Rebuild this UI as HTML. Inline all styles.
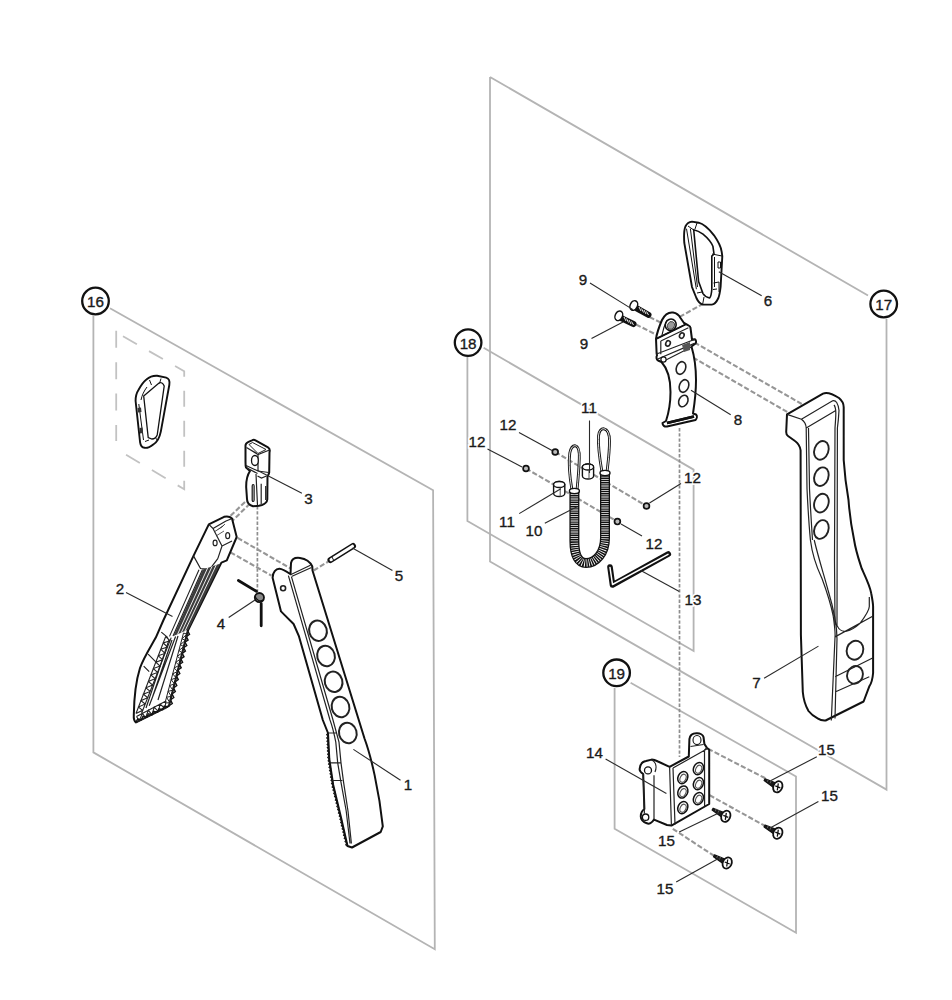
<!DOCTYPE html>
<html><head><meta charset="utf-8">
<style>
html,body{margin:0;padding:0;background:#fff;width:952px;height:1000px;overflow:hidden}
svg{display:block}
text{font-family:"Liberation Sans",sans-serif;font-size:15.2px;fill:#1a1a1a;stroke:#1a1a1a;stroke-width:0.35}
.g{stroke:#b4b4b4;stroke-width:1.8;fill:none}
.d{stroke:#969696;stroke-width:2.1;fill:none;stroke-dasharray:5.2 2.2}
.db{stroke:#c2c2c2;stroke-width:1.8;fill:none;stroke-dasharray:17 14.4}
.l{stroke:#2a2a2a;stroke-width:1.1;fill:none}
.c{stroke:#111;stroke-width:2.3;fill:#fff}
.p{stroke:#111;stroke-width:2.0;fill:#fff;stroke-linejoin:round;stroke-linecap:round}
.pk{stroke:#111;stroke-width:2.2;fill:none;stroke-linejoin:round;stroke-linecap:round}
.t{stroke:#222;stroke-width:1.2;fill:none}
.tk{stroke:#333;stroke-width:1.2;fill:none}
.h{stroke:#222;stroke-width:1.6;fill:none}
</style></head><body>
<svg width="952" height="1000" viewBox="0 0 952 1000">

<path class="g" d="M93.4,316 L93.4,752.4 L434.8,949.2 L433.1,490.3 L110,308.2"/>
<path class="g" d="M490,77 L868,295.5 M886.5,319 L886.5,789.6 L490,561.5 L490,77"/>
<path class="g" d="M467.4,357 L467.4,521 L693.6,651 L693.6,469.6 L483.6,347.7"/>
<path class="g" d="M614.6,688 L614.6,828.8 L796,932.8 L796,776.4 L630.6,682.8"/>
<path class="db" d="M116.2,330.8 L116.2,441"/><path class="db" d="M123,336.2 L184.2,371.3 L184.2,489.2 L120.3,451.4" style="stroke-dasharray:16 14;stroke-dashoffset:0"/>
<path class="d" d="M679.5,428 L679.5,757" style="stroke-dasharray:3.4 1.8;stroke-width:1.7;stroke:#8e8e8e"/>
<path class="d" d="M257.4,506 L257.4,598" style="stroke-dasharray:3.4 1.8;stroke-width:1.7;stroke:#8e8e8e"/>
<path class="d" d="M250.0,503.5 L232.5,520.8"/>
<path class="d" d="M245.0,502.0 L228.6,517.7"/>
<path class="d" d="M260.0,625.0 L260.0,625.0"/>
<path class="d" d="M237.6,537.9 L290.5,568.4"/>
<path class="d" d="M230.4,552.3 L271.5,575.7"/>
<path class="d" d="M313.6,570.5 L328.3,561.5"/>
<path class="d" d="M649.5,317.0 L661.5,323.0"/>
<path class="d" d="M636.0,324.5 L657.0,335.0"/>
<path class="d" d="M703.5,303.5 L679.5,317.0"/>
<path class="d" d="M694.5,342.5 L803.5,405.0"/>
<path class="d" d="M693.0,357.5 L789.0,413.0"/>
<path class="d" d="M555.2,452.0 L646.5,506.0"/>
<path class="d" d="M526.0,468.5 L617.4,521.6"/>
<path class="d" d="M708.0,748.8 L767.2,779.2"/>
<path class="d" d="M709.6,795.2 L767.2,827.2"/>
<path class="d" d="M672.8,828.8 L719.2,859.2"/>
<g id="p1">
<path class="p" d="M272.6,577.8 C272.6,572 276,568.6 279.5,568.8 C283,569 286.5,571.5 290.5,574.2 L291,563 C292,558.5 296,557.5 300,558 C305,558.7 310,561.5 312.3,566.5 L312.5,570.5 L364.5,738.5 C371,756 379,790 382.8,826.4 L380.7,832 L352,847.5 L347.5,846 L341,817.5 L333.2,785 L329.3,759 L328,733 L322.8,720 L299,636.4 L293.6,624 L284.2,614.6 L281,611.4 Z"/>
<path class="t" d="M290.5,574.7 L310.4,565.2 M291.5,576.5 L311.5,567.5 M288.4,575.7 L330,720 C333,728 335.8,742.1 335.8,742.1 L337.7,762.9 L341,782.4 L346.2,811 L350,843.5 M291.5,576.8 L333,720 L339,742.1 L341,762.9 L343.6,782.4 L348,811 L351.4,843.5 M329.3,762.9 L341,762.9 M331.2,780.5 L342.3,780.5 M328,733 L336,733"/>
<circle class="h" cx="283.1" cy="588.3" r="2.5"/>
<g class="h" style="stroke-width:2">
<ellipse cx="318" cy="630.7" rx="8.8" ry="10.3" transform="rotate(-15 318 630.7)"/>
<ellipse cx="326" cy="656" rx="8.8" ry="10.3" transform="rotate(-15 326 656)"/>
<ellipse cx="333.6" cy="681.8" rx="8.8" ry="10.3" transform="rotate(-15 333.6 681.8)"/>
<ellipse cx="340.5" cy="707" rx="8.8" ry="10.3" transform="rotate(-15 340.5 707)"/>
<ellipse cx="347.8" cy="733" rx="8.8" ry="10.3" transform="rotate(-15 347.8 733)"/>
</g>
</g>
<path d="M328.0,733.0 L326.6,734.7 L328.2,736.2 L326.7,737.9 L328.3,739.5 L326.9,741.2 L328.5,742.8 L327.1,744.4 L328.6,746.0 L327.2,747.7 L328.8,749.2 L327.4,750.9 L329.0,752.5 L327.6,754.2 L329.1,755.8 L327.7,757.4 L329.3,759.0 L328.1,760.8 L329.8,762.2 L328.5,764.1 L330.3,765.5 L329.0,767.3 L330.8,768.8 L329.5,770.6 L331.2,772.0 L330.0,773.8 L331.7,775.2 L330.5,777.1 L332.2,778.5 L331.0,780.3 L332.7,781.8 L331.5,783.6 L333.2,785.0 L332.1,787.0 L334.0,788.2 L332.9,790.2 L334.8,791.5 L333.7,793.5 L335.5,794.8 L334.5,796.7 L336.3,798.0 L335.3,800.0 L337.1,801.2 L336.0,803.2 L337.9,804.5 L336.8,806.5 L338.7,807.8 L337.6,809.7 L339.4,811.0 L338.4,813.0 L340.2,814.2 L339.2,816.2 L341.0,817.5 L339.9,819.4 L341.7,820.7 L340.6,822.6 L342.4,823.8 L341.3,825.8 L343.2,827.0 L342.1,828.9 L343.9,830.2 L342.8,832.1 L344.6,833.3 L343.5,835.3 L345.3,836.5 L344.2,838.4 L346.1,839.7 L345.0,841.6 L346.8,842.8 L345.7,844.8 L347.5,846.0" stroke="#111" stroke-width="1.1" fill="none"/>
<path d="M330.5,560 L353,546" stroke="#111" stroke-width="6" stroke-linecap="round"/>
<path d="M331,559.8 L352.5,546.2" stroke="#fff" stroke-width="3" stroke-linecap="round"/>
<path d="M332,557 L334,561" stroke="#111" stroke-width="1"/>
<g id="p2">
<path class="p" d="M208.8,524.4 L224.1,516.8 C227,516 230,516.5 232,518.5 L236.7,537 L226.8,560.4 L221.4,562.6 L187.7,631 L169,705.8 L136,722.4 C134,721 133.5,719 133.8,715 C134,700 135,684 140,668 C144,657 150,648 155.8,637.6 L163.5,620 L193.5,555.9 Z"/>
<path class="t" d="M208.8,524.4 L213,528.5 L226,521 M213,528.5 L222,546 L217.8,558.6 M226,521 L231,519 M222,546 L232,541 M193.5,555.9 L200.5,568.5 L209.7,569.4 L217.8,558.6"/>
<ellipse class="t" cx="215.1" cy="542.9" rx="2" ry="2.8"/>
<ellipse class="t" cx="227.7" cy="535.7" rx="2" ry="3"/>
<path d="M214,532 L222,527 L225,524 M216,536 L224,531" stroke="#333" stroke-width="0.8"/>
</g>
<path d="M203,569.5 L220.5,563.5 L188.5,629.5 L173.5,636 Z" fill="#3c3c3c" stroke="none"/>
<path d="M207.7,567.9 L177.6,634.2 M212.1,566.4 L181.3,632.6 M216.3,564.9 L184.9,631.1 " stroke="#fff" stroke-width="0.9" fill="none"/>
<path d="M199,569.8 L169.5,636.4 M202.5,569.5 L173,636" stroke="#222" stroke-width="1.1" fill="none"/>
<path d="M187.7,631.0 L189.5,634.4 L186.3,636.6 L188.1,640.0 L184.9,642.1 L186.8,645.6 L183.5,647.7 L185.4,651.1 L182.2,653.3 L184.0,656.7 L180.8,658.9 L182.6,662.3 L179.4,664.4 L181.2,667.8 L178.0,670.0 L179.8,673.6 L176.5,676.0 L178.3,679.6 L175.0,681.9 L176.8,685.6 L173.5,687.9 L175.3,691.5 L172.0,693.9 L173.8,697.5 L170.5,699.8 L172.3,703.5 L169.0,705.8" stroke="#111" stroke-width="1.4" fill="none"/>
<path d="M183.5,633.0 L165.0,703.0 M187.7,631.0 L169.0,705.8 M183.5,633.0 L186.9,634.1 L182.0,638.8 L185.4,640.4 L180.4,644.7 L183.8,646.6 L178.9,650.5 L182.2,652.8 L177.3,656.3 L180.7,659.0 L175.8,662.2 L179.1,665.3 L174.2,668.0 L177.6,671.5 L172.7,673.8 L176.0,677.8 L171.2,679.7 L174.5,684.0 L169.6,685.5 L172.9,690.2 L168.1,691.3 L171.3,696.4 L166.5,697.2 L169.8,702.7 L165.0,703.0" stroke="#222" stroke-width="1.0" fill="none"/>
<path d="M165.7,636.5 L136.0,713.5 M171.2,637.6 L141.5,713.5 M165.7,636.5 L170.0,640.8 L163.2,642.9 L167.5,647.1 L160.8,649.3 L165.0,653.4 L158.3,655.8 L162.5,659.7 L155.8,662.2 L160.1,666.1 L153.3,668.6 L157.6,672.4 L150.8,675.0 L155.1,678.7 L148.4,681.4 L152.6,685.0 L145.9,687.8 L150.2,691.4 L143.4,694.2 L147.7,697.7 L140.9,700.7 L145.2,704.0 L138.5,707.1 L142.7,710.3 L136.0,713.5" stroke="#222" stroke-width="1.1" fill="none"/>
<path d="M136.5,716.5 L166.0,701.0 M136.0,722.4 L168.0,707.0 M136.5,716.5 L139.2,720.9 L142.4,713.4 L145.6,717.8 L148.3,710.3 L152.0,714.7 L154.2,707.2 L158.4,711.6 L160.1,704.1 L164.8,708.5 L166.0,701.0" stroke="#222" stroke-width="1.1" fill="none"/>
<path d="M136.0,722.4 L137.6,719.0 L141.3,719.8 L143.0,716.4 L146.7,717.3 L148.3,713.8 L152.0,714.7 L153.6,711.3 L157.3,712.1 L159.0,708.7 L162.7,709.6 L164.3,706.1 L168.0,707.0" stroke="#111" stroke-width="1.4" fill="none"/>
<path class="t" d="M161.3,632.1 L167.9,637.6 M148.1,654.1 L155.8,661.8 M143.7,666.2 L149.2,671.7 M175.6,636.5 L149.2,705.8 M172,640 L152.5,697 M178,636 L158,700 M169,640 L146,708"/>
<path d="M238.4,580.5 L256.4,591.3 M261.2,603.6 L261.2,625.8" stroke="#111" stroke-width="2.8" stroke-linecap="round" fill="none"/>
<circle cx="259.4" cy="597.6" r="4.6" fill="#888" stroke="#111" stroke-width="1.8"/>
<path d="M255,596 C256,600 260,602 263,600" stroke="#111" stroke-width="1.2" fill="none"/>
<g id="p3">
<path class="p" d="M245.5,445.5 C245.5,443.5 247,442.5 248.5,441.8 L252,440.3 C253,439.8 254.5,439.8 255.5,440.3 L268,447.3 C269.3,448 269.8,449 269.8,450.5 L269.5,452.5 L269.2,472.5 C269,474 268,475.5 267.5,476.5 L267.3,499.5 C267,502 265,504 262,505 L259,505.8 L253,506.2 C249,505 247,502 247,499 L246.2,487.5 C246,480 248,474 250,471 L246,467.5 C245.5,466 245.5,464 245.5,462 Z"/>
<path class="t" d="M246.5,447.5 L258,454.5 L269.5,450 M258,454.5 L258,471 M248,448.5 L257,453.5 M246,465.5 L258,471 L268.7,472.5 M247,468 L257.5,473.5 M256,474 L257.5,505.5 M261.2,483.7 L261.2,504 M265.7,486 L265.7,500 M257.5,476 L261.5,478 L266.5,476"/>
<path d="M249,444.5 L252.5,442.5 L266,449.5 L258,453.5 Z" fill="#fff" stroke="#222" stroke-width="1"/>
<ellipse cx="254.9" cy="460.5" rx="3.4" ry="5" fill="#fff" stroke="#111" stroke-width="1.3"/>
<path d="M252.2,486 C252.2,484 254.1,484 254.1,486 L254.1,500 C254.1,502 252.2,502 252.2,500 Z" fill="none" stroke="#111" stroke-width="1.2"/>
</g>
<g id="cb16">
<path d="M146.4,379.4 C150,376.5 153,375.5 157.2,375.8 L166.2,377.6 C169,378.5 170,381 169.3,385 L160.8,431.6 C159.5,438 157,442 153.6,444.2 C150,447 146.5,448.2 144.6,447.8 C142,447.5 140.5,445.5 140.1,442.4 L135.6,401 C135.5,396 136.5,393 138.3,390.2 C140.5,386 143,382 146.4,379.4 Z" fill="#fff" stroke="#111" stroke-width="1.9"/>
<path d="M143.7,396 L159,383 C161,382 163,383 164.2,386 L157.2,435 C156,438 154,439 152,439 L148.2,437.5 Z" fill="none" stroke="#111" stroke-width="1.3"/>
<path d="M138.8,404 L143.5,440 M141,400 C142,395 144,391 147,387 M149.5,380 L151.5,385 M161,378.5 L159.5,383.5 M145,441.5 L149,440 M157.5,440.5 L155,437" stroke="#111" stroke-width="1" fill="none"/>
<path d="M137.5,408 L141,407.5 L141.5,412 L138,412.5 Z M139.5,428 L142.5,427.5 L143,433 L140,433.5 Z" fill="#333" stroke="none"/>
</g>
<g id="p7">
<path class="p" d="M787,414.4 L823,393.6 C827,392 832,393.5 839,398 C842,400.5 843.7,403 843.7,407.2 L843.7,460 C845,480 848.5,500 848.5,500 C850,520 852,530 854.1,540 C856,552 859,560 861.7,568.5 C866,578 870,586 871.2,593.2 C872.5,600 873.1,604 873.1,606.5 L873.1,673 C872.5,680 871,684 869.3,686.3 L863.6,701.5 L825.6,720.5 C822,720.8 820,720 818,718.6 C813,716 810,713 808.5,711 C805,705 803.5,700 802.8,692 L800.9,635 L800.6,450.4 C800,446 798,443 795,441 L788,436 C786.5,435 786.2,433 786.2,432 Z"/>
<path class="t" d="M787,414.4 L801.4,419.2 C804,421 806,424 806.2,428 L807,488.7 C808,510 809,525 810.4,540 C813,560 818,570 821.8,578 C827,592 831,605 833.2,616 C834.5,625 835.1,630 835.1,635 L831.3,720.5 M801.4,419.2 L832.6,400.8 C836,400 838,403 839,410.4 C838.5,420 837.4,428 837.4,428 L837,625.5 C839,630 843,632 846.5,631.2 C852,630 856,627 859.8,623.6 C864,618 869.3,610 869.3,606.5 L869.3,597 M806.2,428 L835.8,410.4 M835.1,636.9 L873.1,616 M835.1,676.8 L873.1,657.8 M835.1,692 L869.3,676.8 M814.2,540 C819,560 824,575 828,590 C834,610 837,625 837,638.8 L835,718.6"/>
<path class="t" d="M834,405 C836.5,408 836,415 835,428 L834.5,560 L835,625 M808.5,428 L809.5,488.7 C810.5,510 811.5,525 812.5,540"/>
<g class="h" style="stroke-width:1.9">
<ellipse cx="821.4" cy="450.4" rx="7" ry="9.6" transform="rotate(20 821.4 450.4)"/>
<ellipse cx="821.4" cy="476.7" rx="7" ry="9.6" transform="rotate(20 821.4 476.7)"/>
<ellipse cx="821.4" cy="503.1" rx="7" ry="9.6" transform="rotate(20 821.4 503.1)"/>
<ellipse cx="821.4" cy="529.5" rx="7" ry="9.6" transform="rotate(20 821.4 529.5)"/>
<ellipse cx="855" cy="650.2" rx="8.2" ry="9.6" transform="rotate(20 855 650.2)"/>
<ellipse cx="855" cy="674.9" rx="7.8" ry="9" transform="rotate(20 855 674.9)"/>
</g>
</g>
<g id="p6">
<path d="M685.4,226.5 C687,223 689.5,221.8 692,221.6 L698.6,222.7 C704,224 709,229 714,235.3 C718,241 721,247 721.7,251.8 L722.3,256.2 L720.6,287 C720,292 719.5,295 718.4,298 C716.5,302 714,304.5 711.8,304.6 L703,304.6 C700,304 698,301.5 696.4,298 L692,287 L684.3,243 C683.8,236 684,230 685.4,226.5 Z" fill="#fff" stroke="#111" stroke-width="1.9"/>
<path d="M693.7,229.8 C697,230.5 700,232 703,234.2 C707,237.5 711,242 712.9,246.3 L714,254 L711.8,256.2 L711.8,289.2 C711.5,294 710.5,297 709.6,298 C707,297.5 704.5,296 703,293.6 L698.6,281.5 Z" fill="none" stroke="#111" stroke-width="1.6"/>
<path d="M686.5,228.7 L696.4,289.2 M690.4,228.7 L697.5,287 M688,226 L693,229.5 M697,223 L695,229 M697,293 L702,292 M702.5,305 L704,297 M712,254 L722,256 M714.5,257 L714.5,287 M718,262 L720.5,262 L720.5,268 L718,268 Z M713.5,283 L719,282 L719,292 M713,289.5 L717,289" stroke="#111" stroke-width="1" fill="none"/>
</g>
<g id="p9">
<path d="M637,308.5 L648.5,314.8" stroke="#111" stroke-width="6" stroke-linecap="round"/>
<path d="M639,307 L641,311 M641.5,308.5 L643.5,312.5 M644,310 L646,314 M646.5,311.5 L648.5,315" stroke="#fff" stroke-width="0.9"/>
<ellipse cx="633.8" cy="305.5" rx="3.6" ry="5" fill="#fff" stroke="#111" stroke-width="1.5" transform="rotate(25 633.8 305.5)"/>
<path d="M622,318.5 L633.5,324" stroke="#111" stroke-width="6" stroke-linecap="round"/>
<path d="M624,317 L626,321 M626.5,318.5 L628.5,322.5 M629,320 L631,324 M631.5,321.5 L633.5,325" stroke="#fff" stroke-width="0.9"/>
<ellipse cx="618.8" cy="315.8" rx="3.6" ry="5" fill="#fff" stroke="#111" stroke-width="1.5" transform="rotate(25 618.8 315.8)"/>
</g>
<g id="p8">
<path class="p" d="M656.6,353 L656,338.6 C657,333 659,327 662,320 C665,314 669,312 673,312.5 C676,313 679,315 680.5,318 L684,323 L688.4,325.4 C690,326 690.5,327 690.5,328 L692,339.5 L695,339.2 C696,340 696.5,342 695.5,343.5 L691.5,346.5 C694,355 696,368 696,380 C696,393 694.5,404 693,413.5 L696,414.5 C697.5,416 697,418.5 695.5,420 L667,426.5 C664.5,427 662.5,425.5 662.5,423 L666,421 C669,412 670.5,402 670.5,392 C670.5,378 667,368 661.5,362 L658,360.5 C656.5,359.5 656,357 657,355.5 Z"/>
<ellipse cx="670.7" cy="324.8" rx="5.4" ry="5.8" fill="#fff" stroke="#111" stroke-width="1.6" transform="rotate(25 670.7 324.8)"/>
<ellipse cx="671.2" cy="325.3" rx="3.4" ry="4" fill="#9a9a9a" stroke="#333" stroke-width="0.8" transform="rotate(25 670.7 324.8)"/>
<path d="M662,335 C663,329 665,324 667,320.5" stroke="#111" stroke-width="1.1" fill="none"/>
<path class="t" d="M656.6,338.6 L686,324.2 M660.8,341 L688.4,327.8 M660.8,341 L660.8,354.2 M656,354.2 L695,339.2 M657.8,359 L694.4,343.4 M662,362 L691.5,347"/>
<path d="M656.6,338.6 L686,324.2" stroke="#111" stroke-width="1.8"/>
<ellipse class="h" cx="668" cy="343.4" rx="2.2" ry="2.8" transform="rotate(25 668 343.4)"/>
<ellipse class="h" cx="681.8" cy="335.6" rx="2.2" ry="2.8" transform="rotate(25 681.8 335.6)"/>
<path d="M682,345 L690,342 L690,350 L684,352 Z" fill="#555" stroke="none"/>
<circle cx="663.5" cy="359.5" r="2.6" fill="#fff" stroke="#111" stroke-width="1.2"/>
<g class="h">
<ellipse cx="681" cy="368" rx="4.6" ry="6.5" transform="rotate(20 681 368)"/>
<ellipse cx="684" cy="386" rx="4.6" ry="6.5" transform="rotate(20 684 386)"/>
<ellipse cx="683.3" cy="401" rx="4.4" ry="6" transform="rotate(25 683.3 401)"/>
</g>
<path d="M667,423 L694,416.5" stroke="#111" stroke-width="2.5"/>
</g>
<path d="M667,423 L694,416.5" stroke="#111" stroke-width="2.5"/>
</g>
<circle cx="555.2" cy="452.0" r="2.9" fill="#bbb" stroke="#111" stroke-width="1.7"/>
<circle cx="526.0" cy="468.5" r="2.9" fill="#bbb" stroke="#111" stroke-width="1.7"/>
<circle cx="646.5" cy="506.0" r="2.9" fill="#bbb" stroke="#111" stroke-width="1.7"/>
<circle cx="617.4" cy="521.6" r="2.9" fill="#bbb" stroke="#111" stroke-width="1.7"/>
<g id="p10">
<path id="lp1" d="M572,490 C569.5,476 568.5,463 569.8,453 C571,447 573.5,445.5 575.5,445.8 C578,446.3 579.5,450 579.3,458 C579,470 578,480 577,490" fill="none" stroke="#111" stroke-width="2.8"/>
<path d="M572,490 C569.5,476 568.5,463 569.8,453 C571,447 573.5,445.5 575.5,445.8 C578,446.3 579.5,450 579.3,458 C579,470 578,480 577,490" fill="none" stroke="#fff" stroke-width="0.9"/>
<path d="M602,472 C599.5,458 598,445 598.5,436 C599,430.5 601.5,428.5 604,428.8 C607,429.3 609.5,433 609.5,441 C609.5,453 608,463 607,472" fill="none" stroke="#111" stroke-width="2.8"/>
<path d="M602,472 C599.5,458 598,445 598.5,436 C599,430.5 601.5,428.5 604,428.8 C607,429.3 609.5,433 609.5,441 C609.5,453 608,463 607,472" fill="none" stroke="#fff" stroke-width="0.9"/>
<path d="M574.4,492 L574.4,541 C574.4,556 579,563 586,563 C596,563 605,553 605,538 L605,474" fill="none" stroke="#111" stroke-width="10"/>
<path d="M574.4,492 L574.4,541 C574.4,556 579,563 586,563 C596,563 605,553 605,538 L605,474" fill="none" stroke="#fff" stroke-width="7.4" stroke-dasharray="0.8 1.4"/>
<ellipse cx="574.4" cy="491" rx="5" ry="2.6" fill="#fff" stroke="#111" stroke-width="1.4"/>
<ellipse cx="605" cy="473" rx="5" ry="2.6" fill="#fff" stroke="#111" stroke-width="1.4"/>
</g>
<path d="M582.4,467.0 L582.4,476.0 A5.6,3 0 0 0 593.6,476.0 L593.6,467.0 A5.6,3 0 0 0 582.4,467.0 Z" fill="#fff" stroke="#111" stroke-width="1.4"/>
<ellipse cx="588.0" cy="467.0" rx="5.6" ry="3" fill="#fff" stroke="#111" stroke-width="1.3"/>
<path d="M589.0,470.0 L589.0,479.0" stroke="#555" stroke-width="1"/>
<path d="M553.6,484.5 L553.6,493.5 A5.6,3 0 0 0 564.8,493.5 L564.8,484.5 A5.6,3 0 0 0 553.6,484.5 Z" fill="#fff" stroke="#111" stroke-width="1.4"/>
<ellipse cx="559.2" cy="484.5" rx="5.6" ry="3" fill="#fff" stroke="#111" stroke-width="1.3"/>
<path d="M560.2,487.5 L560.2,496.5" stroke="#555" stroke-width="1"/>
<path d="M610,567 L612.5,585 L668.3,554" fill="none" stroke="#111" stroke-width="5.6" stroke-linejoin="round" stroke-linecap="round"/>
<path d="M610,567.5 L612.5,584.5 L668,554.3" fill="none" stroke="#fff" stroke-width="1.5" stroke-linejoin="round" stroke-linecap="round"/>
<g id="p14">
<path class="p" d="M639.6,769.2 C640,764 643,761.5 646,761 L651.6,759.6 C654,759.5 656,760.5 658,761.5 L669.6,766.8 L688.8,756.5 L689.4,739.2 C689.8,735 693,733 697.2,733.2 C700,733.3 703,735 703.5,737 L704.4,744 L706.8,747.6 L709.2,750 L709.2,804 L671.4,825.6 L667,825 L654,819.6 C652,823 649,824.5 646.8,823.2 C643,822 640.5,819 640.8,816 C641,812 642,810.5 644.4,809 L643.2,774 C641,772.5 639.6,771 639.6,769.2 Z"/>
<path class="t" d="M669.6,766.8 L671.4,825.6 M673,768 L675,824.5 M706.8,747.6 L704.5,750 L704.6,806.5 M673,768 L706.8,749 M654,775.2 L654,819.6 M643.2,774 L644.4,813.6 M651.6,759.6 C656,762 657,767 655,772 M690.5,746.5 L703.5,744.5"/>
<circle cx="648" cy="770.4" r="3.5" fill="#fff" stroke="#111" stroke-width="1.3"/>
<circle cx="645.6" cy="817.2" r="3.2" fill="#fff" stroke="#111" stroke-width="1.3"/>
<ellipse cx="697" cy="740" rx="4" ry="4.5" fill="none" stroke="#111" stroke-width="1.1"/>
</g>
<ellipse cx="682.8" cy="777.6" rx="4.8" ry="6.3" fill="#fff" stroke="#111" stroke-width="1.5" transform="rotate(25 682.8 777.6)"/>
<ellipse cx="683.3" cy="778.1" rx="2.8" ry="4.2" fill="none" stroke="#555" stroke-width="1.1" transform="rotate(25 682.8 777.6)"/>
<ellipse cx="682.8" cy="792.0" rx="4.8" ry="6.3" fill="#fff" stroke="#111" stroke-width="1.5" transform="rotate(25 682.8 792.0)"/>
<ellipse cx="683.3" cy="792.5" rx="2.8" ry="4.2" fill="none" stroke="#555" stroke-width="1.1" transform="rotate(25 682.8 792.0)"/>
<ellipse cx="682.8" cy="807.6" rx="4.8" ry="6.3" fill="#fff" stroke="#111" stroke-width="1.5" transform="rotate(25 682.8 807.6)"/>
<ellipse cx="683.3" cy="808.1" rx="2.8" ry="4.2" fill="none" stroke="#555" stroke-width="1.1" transform="rotate(25 682.8 807.6)"/>
<ellipse cx="698.4" cy="768.6" rx="4.8" ry="6.3" fill="#fff" stroke="#111" stroke-width="1.5" transform="rotate(25 698.4 768.6)"/>
<ellipse cx="698.9" cy="769.1" rx="2.8" ry="4.2" fill="none" stroke="#555" stroke-width="1.1" transform="rotate(25 698.4 768.6)"/>
<ellipse cx="698.4" cy="783.6" rx="4.8" ry="6.3" fill="#fff" stroke="#111" stroke-width="1.5" transform="rotate(25 698.4 783.6)"/>
<ellipse cx="698.9" cy="784.1" rx="2.8" ry="4.2" fill="none" stroke="#555" stroke-width="1.1" transform="rotate(25 698.4 783.6)"/>
<ellipse cx="698.4" cy="798.6" rx="4.8" ry="6.3" fill="#fff" stroke="#111" stroke-width="1.5" transform="rotate(25 698.4 798.6)"/>
<ellipse cx="698.9" cy="799.1" rx="2.8" ry="4.2" fill="none" stroke="#555" stroke-width="1.1" transform="rotate(25 698.4 798.6)"/>
<path d="M765.1,778.7 L776.0,783.0 L773.6,787.4 L764.1,780.5 Z" fill="#1a1a1a" stroke="#111" stroke-width="1.2" stroke-linejoin="round"/>
<path d="M768.3,779.3 L767.3,781.8 M771.3,780.5 L770.0,783.3" stroke="#777" stroke-width="0.8"/>
<ellipse cx="777.8" cy="786.8" rx="4.4" ry="5.8" fill="#fff" stroke="#111" stroke-width="1.8" transform="rotate(25 777.8 786.8)"/>
<path d="M775.3,785.8 L780.3,787.8 M778.3,783.3 L777.3,790.3" stroke="#111" stroke-width="1.3"/>
<path d="M765.1,825.1 L776.0,829.4 L773.6,833.8 L764.1,826.9 Z" fill="#1a1a1a" stroke="#111" stroke-width="1.2" stroke-linejoin="round"/>
<path d="M768.3,825.7 L767.3,828.2 M771.3,826.9 L770.0,829.7" stroke="#777" stroke-width="0.8"/>
<ellipse cx="777.8" cy="833.2" rx="4.4" ry="5.8" fill="#fff" stroke="#111" stroke-width="1.8" transform="rotate(25 777.8 833.2)"/>
<path d="M775.3,832.2 L780.3,834.2 M778.3,829.7 L777.3,836.7" stroke="#111" stroke-width="1.3"/>
<path d="M713.1,808.2 L724.0,812.5 L721.6,816.9 L712.1,810.0 Z" fill="#1a1a1a" stroke="#111" stroke-width="1.2" stroke-linejoin="round"/>
<path d="M716.3,808.8 L715.3,811.3 M719.3,810.0 L718.0,812.8" stroke="#777" stroke-width="0.8"/>
<ellipse cx="725.8" cy="816.3" rx="4.4" ry="5.8" fill="#fff" stroke="#111" stroke-width="1.8" transform="rotate(25 725.8 816.3)"/>
<path d="M723.3,815.3 L728.3,817.3 M726.3,812.8 L725.3,819.8" stroke="#111" stroke-width="1.3"/>
<path d="M714.5,854.9 L725.4,859.2 L723.0,863.6 L713.5,856.7 Z" fill="#1a1a1a" stroke="#111" stroke-width="1.2" stroke-linejoin="round"/>
<path d="M717.7,855.5 L716.7,858.0 M720.7,856.7 L719.4,859.5" stroke="#777" stroke-width="0.8"/>
<ellipse cx="727.2" cy="863.0" rx="4.4" ry="5.8" fill="#fff" stroke="#111" stroke-width="1.8" transform="rotate(25 727.2 863.0)"/>
<path d="M724.7,862.0 L729.7,864.0 M727.7,859.5 L726.7,866.5" stroke="#111" stroke-width="1.3"/>
<path class="l" d="M353.4,749.4 L400.5,780.2"/>
<path class="l" d="M126.0,592.5 L172.5,616.5"/>
<path class="l" d="M257.7,470.4 L301.9,493.3"/>
<path class="l" d="M228.7,617.5 L255.0,600.0"/>
<path class="l" d="M352.4,548.0 L392.4,570.4"/>
<path class="l" d="M718.8,271.8 L761.7,295.7"/>
<path class="l" d="M764.1,678.3 L818.5,646.1"/>
<path class="l" d="M691.0,390.2 L730.7,414.8"/>
<path class="l" d="M590.0,283.0 L633.0,309.6"/>
<path class="l" d="M591.5,338.6 L623.0,322.0"/>
<path class="l" d="M544.8,523.2 L577.6,506.4"/>
<path class="l" d="M589.5,420.5 L589.5,473.0"/>
<path class="l" d="M519.2,513.6 L560.8,488.8"/>
<path class="l" d="M519.0,432.5 L552.0,450.5"/>
<path class="l" d="M487.5,449.0 L522.0,467.0"/>
<path class="l" d="M681.0,483.5 L649.5,503.0"/>
<path class="l" d="M642.0,536.0 L621.0,524.0"/>
<path class="l" d="M640.8,570.5 L679.3,591.4"/>
<path class="l" d="M605.6,759.0 L666.4,793.6"/>
<path class="l" d="M771.0,780.4 L816.8,756.8"/>
<path class="l" d="M771.0,827.6 L818.4,801.6"/>
<path class="l" d="M719.2,812.8 L679.2,832.0"/>
<path class="l" d="M719.8,857.8 L676.2,882.0"/>
<text x="408.0" y="790.0" text-anchor="middle" style="stroke:#fff;stroke-width:3.5;fill:#fff">1</text>
<text x="120.0" y="594.0" text-anchor="middle" style="stroke:#fff;stroke-width:3.5;fill:#fff">2</text>
<text x="308.5" y="503.8" text-anchor="middle" style="stroke:#fff;stroke-width:3.5;fill:#fff">3</text>
<text x="221.0" y="629.0" text-anchor="middle" style="stroke:#fff;stroke-width:3.5;fill:#fff">4</text>
<text x="399.0" y="580.5" text-anchor="middle" style="stroke:#fff;stroke-width:3.5;fill:#fff">5</text>
<text x="768.0" y="306.0" text-anchor="middle" style="stroke:#fff;stroke-width:3.5;fill:#fff">6</text>
<text x="756.5" y="688.2" text-anchor="middle" style="stroke:#fff;stroke-width:3.5;fill:#fff">7</text>
<text x="738.0" y="425.0" text-anchor="middle" style="stroke:#fff;stroke-width:3.5;fill:#fff">8</text>
<text x="583.0" y="285.0" text-anchor="middle" style="stroke:#fff;stroke-width:3.5;fill:#fff">9</text>
<text x="584.0" y="349.0" text-anchor="middle" style="stroke:#fff;stroke-width:3.5;fill:#fff">9</text>
<text x="534.0" y="535.8" text-anchor="middle" style="stroke:#fff;stroke-width:3.5;fill:#fff">10</text>
<text x="589.0" y="413.2" text-anchor="middle" style="stroke:#fff;stroke-width:3.5;fill:#fff">11</text>
<text x="507.0" y="526.5" text-anchor="middle" style="stroke:#fff;stroke-width:3.5;fill:#fff">11</text>
<text x="508.0" y="430.2" text-anchor="middle" style="stroke:#fff;stroke-width:3.5;fill:#fff">12</text>
<text x="477.0" y="446.5" text-anchor="middle" style="stroke:#fff;stroke-width:3.5;fill:#fff">12</text>
<text x="692.5" y="483.0" text-anchor="middle" style="stroke:#fff;stroke-width:3.5;fill:#fff">12</text>
<text x="654.0" y="548.7" text-anchor="middle" style="stroke:#fff;stroke-width:3.5;fill:#fff">12</text>
<text x="693.0" y="605.0" text-anchor="middle" style="stroke:#fff;stroke-width:3.5;fill:#fff">13</text>
<text x="594.5" y="757.5" text-anchor="middle" style="stroke:#fff;stroke-width:3.5;fill:#fff">14</text>
<text x="826.5" y="755.0" text-anchor="middle" style="stroke:#fff;stroke-width:3.5;fill:#fff">15</text>
<text x="829.5" y="801.0" text-anchor="middle" style="stroke:#fff;stroke-width:3.5;fill:#fff">15</text>
<text x="666.5" y="845.5" text-anchor="middle" style="stroke:#fff;stroke-width:3.5;fill:#fff">15</text>
<text x="665.0" y="893.5" text-anchor="middle" style="stroke:#fff;stroke-width:3.5;fill:#fff">15</text>
<text x="408.0" y="790.0" text-anchor="middle">1</text>
<text x="120.0" y="594.0" text-anchor="middle">2</text>
<text x="308.5" y="503.8" text-anchor="middle">3</text>
<text x="221.0" y="629.0" text-anchor="middle">4</text>
<text x="399.0" y="580.5" text-anchor="middle">5</text>
<text x="768.0" y="306.0" text-anchor="middle">6</text>
<text x="756.5" y="688.2" text-anchor="middle">7</text>
<text x="738.0" y="425.0" text-anchor="middle">8</text>
<text x="583.0" y="285.0" text-anchor="middle">9</text>
<text x="584.0" y="349.0" text-anchor="middle">9</text>
<text x="534.0" y="535.8" text-anchor="middle">10</text>
<text x="589.0" y="413.2" text-anchor="middle">11</text>
<text x="507.0" y="526.5" text-anchor="middle">11</text>
<text x="508.0" y="430.2" text-anchor="middle">12</text>
<text x="477.0" y="446.5" text-anchor="middle">12</text>
<text x="692.5" y="483.0" text-anchor="middle">12</text>
<text x="654.0" y="548.7" text-anchor="middle">12</text>
<text x="693.0" y="605.0" text-anchor="middle">13</text>
<text x="594.5" y="757.5" text-anchor="middle">14</text>
<text x="826.5" y="755.0" text-anchor="middle">15</text>
<text x="829.5" y="801.0" text-anchor="middle">15</text>
<text x="666.5" y="845.5" text-anchor="middle">15</text>
<text x="665.0" y="893.5" text-anchor="middle">15</text>
<circle class="c" cx="95.5" cy="301.0" r="13.3"/>
<text x="95.5" y="307.0" text-anchor="middle" style="font-size:15.2px">16</text>
<circle class="c" cx="883.7" cy="304.0" r="13.3"/>
<text x="883.7" y="310.0" text-anchor="middle" style="font-size:15.2px">17</text>
<circle class="c" cx="468.1" cy="342.6" r="13.3"/>
<text x="468.1" y="348.6" text-anchor="middle" style="font-size:15.2px">18</text>
<circle class="c" cx="616.6" cy="672.8" r="13.3"/>
<text x="616.6" y="678.8" text-anchor="middle" style="font-size:15.2px">19</text>
</svg>
</body></html>
